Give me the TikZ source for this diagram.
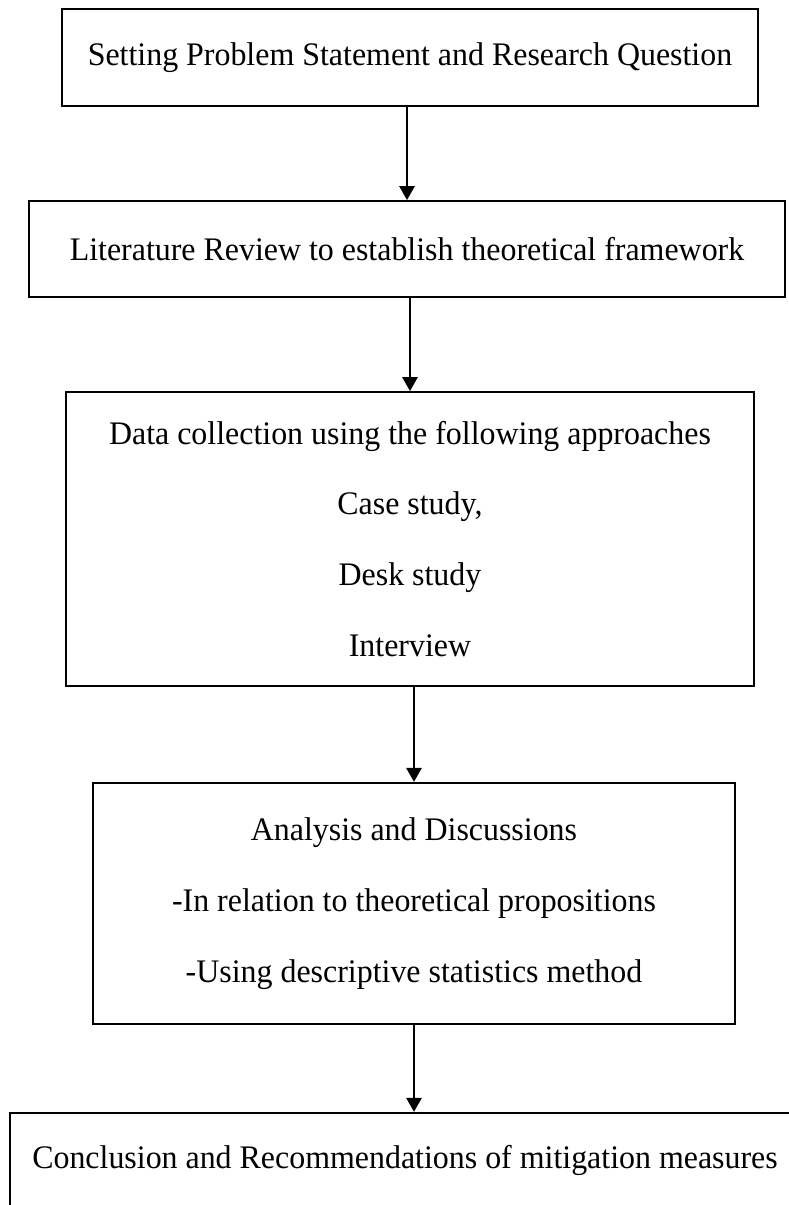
\documentclass[tikz,border=0pt]{standalone}
\usepackage{fontspec}
\setmainfont[FakeStretch=0.97]{Liberation Serif}
\usepackage{tikz}
\usetikzlibrary{arrows.meta,positioning}
\tikzset{
  >={Triangle[length=5.5pt, width=6pt]},
  fstep/.style={rectangle, draw=black, line width=0.8pt, inner sep=0pt,
                align=center, font=\fontsize{13}{28}\selectfont},
  fflow/.style={->, black, line width=0.8pt},
}
\begin{document}
\begin{tikzpicture}[x=0.01389cm, y=-0.01389cm]

  % page
  \clip (0,0) rectangle (789,1205);

  % etapas
  \node[fstep, minimum width=9.67cm, minimum height=1.35cm] (prob) at (410,57.5)
    {Setting Problem Statement and Research Question};
  \node[fstep, minimum width=10.50cm, minimum height=1.33cm] (lit) at (407,249)
    {Literature Review to establish theoretical framework};
  \node[fstep, minimum width=9.56cm, minimum height=4.08cm] (data) at (410,539)
    {Data collection using the following approaches\\ Case study,\\ Desk study\\ Interview};
  \node[fstep, minimum width=8.92cm, minimum height=3.35cm] (anal) at (414,903.5)
    {Analysis and Discussions\\ -In relation to theoretical propositions\\ -Using descriptive statistics method};
  \node[fstep, minimum width=10.97cm, minimum height=1.31cm] (concl) at (405,1160)
    {Conclusion and Recommendations of mitigation measures};

  % setas
  \draw[fflow] (prob.south -| lit.north) -- (lit.north);
  \draw[fflow] (lit.south -| data.north) -- (data.north);
  \draw[fflow] (data.south -| anal.north) -- (anal.north);
  \draw[fflow] (anal.south) -- (anal.south |- concl.north);

\end{tikzpicture}
\end{document}
